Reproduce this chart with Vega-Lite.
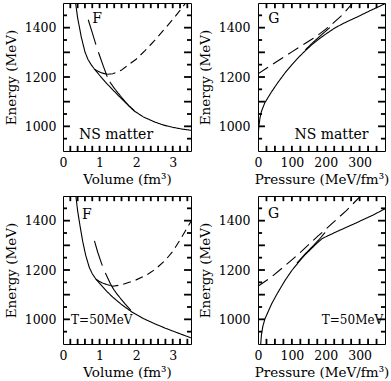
{
  "$schema": "https://vega.github.io/schema/vega-lite/v6.json",
  "background": "white",
  "padding": {"left": 3, "top": 1, "right": 0, "bottom": 0},
  "bounds": "flush",
  "spacing": {"row": 45, "column": 67},
  "columns": 2,
  "config": {
    "view": {"stroke": "black", "strokeWidth": 1},
    "axis": {"domain": false, "grid": false, "ticks": false, "labelFlush": false, "labelOverlap": false, "labelFont": "DejaVu Serif", "titleFont": "DejaVu Serif", "labelFontSize": 12.5, "titleFontSize": 13.5, "labelColor": "black", "titleColor": "black", "titleFontWeight": "normal"},
    "text": {"font": "DejaVu Serif", "fontSize": 14, "color": "black"},
    "line": {"color": "black", "strokeWidth": 1.1},
    "rule": {"color": "black", "strokeWidth": 1.8, "opacity": 1}
  },
  "datasets": {
    "xt_vol": [{"v": 0.2}, {"v": 0.4}, {"v": 0.6}, {"v": 0.8}, {"v": 1}, {"v": 1.2}, {"v": 1.4}, {"v": 1.6}, {"v": 1.8}, {"v": 2}, {"v": 2.2}, {"v": 2.4}, {"v": 2.6}, {"v": 2.8}, {"v": 3}, {"v": 3.2}, {"v": 3.4}],
    "xt_p": [{"v": 25}, {"v": 50}, {"v": 75}, {"v": 100}, {"v": 125}, {"v": 150}, {"v": 175}, {"v": 200}, {"v": 225}, {"v": 250}, {"v": 275}, {"v": 300}, {"v": 325}, {"v": 350}],
    "yt_major": [{"v": 1000}, {"v": 1100}, {"v": 1200}, {"v": 1300}, {"v": 1400}],
    "yt_minor": [{"v": 950}, {"v": 1050}, {"v": 1150}, {"v": 1250}, {"v": 1350}, {"v": 1450}],
    "tl": [
      {"seg": "a1", "dash": "solid", "x": 0.33, "y": 1515}, {"seg": "a1", "dash": "solid", "x": 0.4, "y": 1440}, {"seg": "a1", "dash": "solid", "x": 0.5, "y": 1362}, {"seg": "a1", "dash": "solid", "x": 0.6, "y": 1302}, {"seg": "a1", "dash": "solid", "x": 0.68, "y": 1272}, {"seg": "a1", "dash": "solid", "x": 0.77, "y": 1250}, {"seg": "a1", "dash": "solid", "x": 0.86, "y": 1232}, {"seg": "a1", "dash": "solid", "x": 1.0, "y": 1207}, {"seg": "a1", "dash": "solid", "x": 1.2, "y": 1173}, {"seg": "a1", "dash": "solid", "x": 1.4, "y": 1142}, {"seg": "a1", "dash": "solid", "x": 1.6, "y": 1112}, {"seg": "a1", "dash": "solid", "x": 1.8, "y": 1083}, {"seg": "a1", "dash": "solid", "x": 1.95, "y": 1062}, {"seg": "a1", "dash": "solid", "x": 2.2, "y": 1038}, {"seg": "a1", "dash": "solid", "x": 2.5, "y": 1018}, {"seg": "a1", "dash": "solid", "x": 2.75, "y": 1005}, {"seg": "a1", "dash": "solid", "x": 3.0, "y": 996}, {"seg": "a1", "dash": "solid", "x": 3.25, "y": 989}, {"seg": "a1", "dash": "solid", "x": 3.5, "y": 984},
      {"seg": "a2", "dash": "long", "x": 0.69, "y": 1432}, {"seg": "a2", "dash": "long", "x": 0.8, "y": 1380}, {"seg": "a2", "dash": "long", "x": 0.9, "y": 1331}, {"seg": "a2", "dash": "long", "x": 1.0, "y": 1287}, {"seg": "a2", "dash": "long", "x": 1.1, "y": 1245}, {"seg": "a2", "dash": "long", "x": 1.2, "y": 1205}, {"seg": "a2", "dash": "long", "x": 1.28, "y": 1180},
      {"seg": "a3", "dash": "solid", "x": 1.28, "y": 1180}, {"seg": "a3", "dash": "solid", "x": 1.4, "y": 1155}, {"seg": "a3", "dash": "solid", "x": 1.5, "y": 1136}, {"seg": "a3", "dash": "solid", "x": 1.6, "y": 1118}, {"seg": "a3", "dash": "solid", "x": 1.7, "y": 1100}, {"seg": "a3", "dash": "solid", "x": 1.8, "y": 1084}, {"seg": "a3", "dash": "solid", "x": 1.95, "y": 1063},
      {"seg": "a4", "dash": "solid", "x": 0.86, "y": 1232}, {"seg": "a4", "dash": "solid", "x": 0.95, "y": 1224}, {"seg": "a4", "dash": "solid", "x": 1.05, "y": 1217}, {"seg": "a4", "dash": "solid", "x": 1.15, "y": 1213}, {"seg": "a4", "dash": "solid", "x": 1.22, "y": 1211},
      {"seg": "a5", "dash": "short", "x": 1.22, "y": 1211}, {"seg": "a5", "dash": "short", "x": 1.36, "y": 1213}, {"seg": "a5", "dash": "short", "x": 1.59, "y": 1227}, {"seg": "a5", "dash": "short", "x": 1.77, "y": 1247}, {"seg": "a5", "dash": "short", "x": 2.0, "y": 1272}, {"seg": "a5", "dash": "short", "x": 2.25, "y": 1308}, {"seg": "a5", "dash": "short", "x": 2.5, "y": 1347}, {"seg": "a5", "dash": "short", "x": 2.75, "y": 1390}, {"seg": "a5", "dash": "short", "x": 3.0, "y": 1433}, {"seg": "a5", "dash": "short", "x": 3.2, "y": 1470}, {"seg": "a5", "dash": "short", "x": 3.38, "y": 1505}
    ],
    "tr": [
      {"seg": "b1", "dash": "solid", "x": 0, "y": 945}, {"seg": "b1", "dash": "solid", "x": 1, "y": 975}, {"seg": "b1", "dash": "solid", "x": 3, "y": 1005}, {"seg": "b1", "dash": "solid", "x": 6, "y": 1035}, {"seg": "b1", "dash": "solid", "x": 10, "y": 1060}, {"seg": "b1", "dash": "solid", "x": 20, "y": 1095}, {"seg": "b1", "dash": "solid", "x": 40, "y": 1140}, {"seg": "b1", "dash": "solid", "x": 60, "y": 1180}, {"seg": "b1", "dash": "solid", "x": 80, "y": 1217}, {"seg": "b1", "dash": "solid", "x": 100, "y": 1250}, {"seg": "b1", "dash": "solid", "x": 120, "y": 1280}, {"seg": "b1", "dash": "solid", "x": 140, "y": 1307}, {"seg": "b1", "dash": "solid", "x": 160, "y": 1332}, {"seg": "b1", "dash": "solid", "x": 180, "y": 1354}, {"seg": "b1", "dash": "solid", "x": 200, "y": 1374}, {"seg": "b1", "dash": "solid", "x": 225, "y": 1397}, {"seg": "b1", "dash": "solid", "x": 250, "y": 1416}, {"seg": "b1", "dash": "solid", "x": 275, "y": 1432}, {"seg": "b1", "dash": "solid", "x": 300, "y": 1448}, {"seg": "b1", "dash": "solid", "x": 325, "y": 1465}, {"seg": "b1", "dash": "solid", "x": 350, "y": 1481}, {"seg": "b1", "dash": "solid", "x": 375, "y": 1497},
      {"seg": "b2", "dash": "med", "x": 0, "y": 1213}, {"seg": "b2", "dash": "med", "x": 50, "y": 1258}, {"seg": "b2", "dash": "med", "x": 100, "y": 1302}, {"seg": "b2", "dash": "med", "x": 140, "y": 1337}, {"seg": "b2", "dash": "med", "x": 160, "y": 1354}, {"seg": "b2", "dash": "med", "x": 180, "y": 1373}, {"seg": "b2", "dash": "med", "x": 200, "y": 1394}, {"seg": "b2", "dash": "med", "x": 220, "y": 1416}, {"seg": "b2", "dash": "med", "x": 250, "y": 1453}, {"seg": "b2", "dash": "med", "x": 280, "y": 1500},
      {"seg": "b3", "dash": "solid", "x": 140, "y": 1310}, {"seg": "b3", "dash": "solid", "x": 160, "y": 1337}, {"seg": "b3", "dash": "solid", "x": 180, "y": 1362}, {"seg": "b3", "dash": "solid", "x": 200, "y": 1386}, {"seg": "b3", "dash": "solid", "x": 212, "y": 1400}
    ],
    "bl": [
      {"seg": "c1", "dash": "solid", "x": 0.34, "y": 1515}, {"seg": "c1", "dash": "solid", "x": 0.4, "y": 1440}, {"seg": "c1", "dash": "solid", "x": 0.47, "y": 1375}, {"seg": "c1", "dash": "solid", "x": 0.54, "y": 1315}, {"seg": "c1", "dash": "solid", "x": 0.62, "y": 1260}, {"seg": "c1", "dash": "solid", "x": 0.72, "y": 1210}, {"seg": "c1", "dash": "solid", "x": 0.8, "y": 1185}, {"seg": "c1", "dash": "solid", "x": 0.9, "y": 1163}, {"seg": "c1", "dash": "solid", "x": 1.0, "y": 1146}, {"seg": "c1", "dash": "solid", "x": 1.2, "y": 1113}, {"seg": "c1", "dash": "solid", "x": 1.36, "y": 1090}, {"seg": "c1", "dash": "solid", "x": 1.6, "y": 1060}, {"seg": "c1", "dash": "solid", "x": 1.9, "y": 1028}, {"seg": "c1", "dash": "solid", "x": 2.2, "y": 1003}, {"seg": "c1", "dash": "solid", "x": 2.54, "y": 980}, {"seg": "c1", "dash": "solid", "x": 2.8, "y": 964}, {"seg": "c1", "dash": "solid", "x": 3.1, "y": 947}, {"seg": "c1", "dash": "solid", "x": 3.5, "y": 925},
      {"seg": "c2", "dash": "long", "x": 0.86, "y": 1318}, {"seg": "c2", "dash": "long", "x": 0.95, "y": 1272}, {"seg": "c2", "dash": "long", "x": 1.05, "y": 1228}, {"seg": "c2", "dash": "long", "x": 1.15, "y": 1190}, {"seg": "c2", "dash": "long", "x": 1.3, "y": 1143},
      {"seg": "c3", "dash": "solid", "x": 1.3, "y": 1143}, {"seg": "c3", "dash": "solid", "x": 1.4, "y": 1118}, {"seg": "c3", "dash": "solid", "x": 1.5, "y": 1098}, {"seg": "c3", "dash": "solid", "x": 1.6, "y": 1080}, {"seg": "c3", "dash": "solid", "x": 1.7, "y": 1062}, {"seg": "c3", "dash": "solid", "x": 1.86, "y": 1036},
      {"seg": "c4", "dash": "solid", "x": 0.9, "y": 1163}, {"seg": "c4", "dash": "solid", "x": 1.0, "y": 1153}, {"seg": "c4", "dash": "solid", "x": 1.1, "y": 1146}, {"seg": "c4", "dash": "solid", "x": 1.2, "y": 1141}, {"seg": "c4", "dash": "solid", "x": 1.3, "y": 1137},
      {"seg": "c5", "dash": "short", "x": 1.3, "y": 1137}, {"seg": "c5", "dash": "short", "x": 1.36, "y": 1134}, {"seg": "c5", "dash": "short", "x": 1.6, "y": 1140}, {"seg": "c5", "dash": "short", "x": 2.0, "y": 1160}, {"seg": "c5", "dash": "short", "x": 2.32, "y": 1183}, {"seg": "c5", "dash": "short", "x": 2.54, "y": 1205}, {"seg": "c5", "dash": "short", "x": 2.8, "y": 1240}, {"seg": "c5", "dash": "short", "x": 3.0, "y": 1275}, {"seg": "c5", "dash": "short", "x": 3.2, "y": 1322}, {"seg": "c5", "dash": "short", "x": 3.4, "y": 1372}, {"seg": "c5", "dash": "short", "x": 3.52, "y": 1402}
    ],
    "br": [
      {"seg": "d1", "dash": "solid", "x": 8, "y": 900}, {"seg": "d1", "dash": "solid", "x": 10, "y": 935}, {"seg": "d1", "dash": "solid", "x": 14, "y": 970}, {"seg": "d1", "dash": "solid", "x": 20, "y": 1000}, {"seg": "d1", "dash": "solid", "x": 28, "y": 1025}, {"seg": "d1", "dash": "solid", "x": 40, "y": 1062}, {"seg": "d1", "dash": "solid", "x": 57, "y": 1105}, {"seg": "d1", "dash": "solid", "x": 80, "y": 1158}, {"seg": "d1", "dash": "solid", "x": 100, "y": 1198}, {"seg": "d1", "dash": "solid", "x": 120, "y": 1232}, {"seg": "d1", "dash": "solid", "x": 140, "y": 1263}, {"seg": "d1", "dash": "solid", "x": 160, "y": 1290}, {"seg": "d1", "dash": "solid", "x": 175, "y": 1310}, {"seg": "d1", "dash": "solid", "x": 190, "y": 1328}, {"seg": "d1", "dash": "solid", "x": 230, "y": 1354}, {"seg": "d1", "dash": "solid", "x": 290, "y": 1391}, {"seg": "d1", "dash": "solid", "x": 340, "y": 1423}, {"seg": "d1", "dash": "solid", "x": 375, "y": 1448},
      {"seg": "d2", "dash": "med", "x": 0, "y": 1134}, {"seg": "d2", "dash": "med", "x": 40, "y": 1172}, {"seg": "d2", "dash": "med", "x": 77, "y": 1214}, {"seg": "d2", "dash": "med", "x": 120, "y": 1265}, {"seg": "d2", "dash": "med", "x": 175, "y": 1335}, {"seg": "d2", "dash": "med", "x": 224, "y": 1395}, {"seg": "d2", "dash": "med", "x": 260, "y": 1440}, {"seg": "d2", "dash": "med", "x": 303, "y": 1500},
      {"seg": "d3", "dash": "solid", "x": 115, "y": 1228}, {"seg": "d3", "dash": "solid", "x": 140, "y": 1266}, {"seg": "d3", "dash": "solid", "x": 160, "y": 1294}, {"seg": "d3", "dash": "solid", "x": 180, "y": 1323}, {"seg": "d3", "dash": "solid", "x": 198, "y": 1352}
    ]
  },
  "concat": [
    {
      "width": 128, "height": 148,
      "resolve": {"axis": {"x": "independent", "y": "independent"}},
      "layer": [
        {"data": {"name": "tl"},
         "mark": {"type": "line", "clip": true},
         "encoding": {
           "x": {"field": "x", "type": "quantitative", "scale": {"domain": [0, 3.5], "nice": false, "zero": false}, "axis": {"orient": "bottom", "values": [0, 1, 2, 3], "format": "d", "labelPadding": 5, "title": "Volume (fm³)", "titlePadding": 4}},
           "y": {"field": "y", "type": "quantitative", "scale": {"domain": [900, 1500], "nice": false, "zero": false}, "axis": {"orient": "left", "values": [1000, 1200, 1400], "format": "d", "labelPadding": 7, "title": "Energy (MeV)", "titlePadding": 6}},
           "detail": {"field": "seg"},
           "strokeDash": {"field": "dash", "type": "nominal", "scale": {"domain": ["solid", "long", "short", "med"], "range": [[1, 0], [26, 8], [8, 5], [12, 6]]}, "legend": null}
         }},
        {"data": {"name": "xt_vol"}, "mark": {"type": "rule"},
         "encoding": {"x": {"field": "v", "type": "quantitative", "axis": null}, "y": {"datum": 900, "type": "quantitative", "axis": null}, "y2": {"datum": 921}}},
        {"data": {"name": "xt_vol"}, "mark": {"type": "rule"},
         "encoding": {"x": {"field": "v", "type": "quantitative", "axis": null}, "y": {"datum": 1500, "type": "quantitative", "axis": null}, "y2": {"datum": 1479}}},
        {"data": {"name": "yt_major"}, "mark": {"type": "rule"},
         "encoding": {"y": {"field": "v", "type": "quantitative", "axis": null}, "x": {"datum": 0, "type": "quantitative", "axis": null}, "x2": {"datum": 0.19}}},
        {"data": {"name": "yt_minor"}, "mark": {"type": "rule"},
         "encoding": {"y": {"field": "v", "type": "quantitative", "axis": null}, "x": {"datum": 0, "type": "quantitative", "axis": null}, "x2": {"datum": 0.11}}},
        {"data": {"name": "yt_major"}, "mark": {"type": "rule"},
         "encoding": {"y": {"field": "v", "type": "quantitative", "axis": null}, "x": {"datum": 3.5, "type": "quantitative", "axis": null}, "x2": {"datum": 3.31}}},
        {"data": {"name": "yt_minor"}, "mark": {"type": "rule"},
         "encoding": {"y": {"field": "v", "type": "quantitative", "axis": null}, "x": {"datum": 3.5, "type": "quantitative", "axis": null}, "x2": {"datum": 3.39}}},
        {"data": {"values": [{"x": 0.93, "y": 1436, "t": "F"}, {"x": 1.45, "y": 964, "t": "NS matter"}]},
         "mark": {"type": "text", "baseline": "middle", "align": "center"},
         "encoding": {
           "x": {"field": "x", "type": "quantitative", "axis": null},
           "y": {"field": "y", "type": "quantitative", "axis": null},
           "text": {"field": "t"}
         }}
      ]
    },
    {
      "width": 127, "height": 148,
      "resolve": {"axis": {"x": "independent", "y": "independent"}},
      "layer": [
        {"data": {"name": "tr"},
         "mark": {"type": "line", "clip": true},
         "encoding": {
           "x": {"field": "x", "type": "quantitative", "scale": {"domain": [0, 375], "nice": false, "zero": false}, "axis": {"orient": "bottom", "values": [0, 100, 200, 300], "format": "d", "labelPadding": 5, "title": "Pressure (MeV/fm³)", "titlePadding": 4}},
           "y": {"field": "y", "type": "quantitative", "scale": {"domain": [900, 1500], "nice": false, "zero": false}, "axis": {"orient": "left", "values": [1000, 1200, 1400], "format": "d", "labelPadding": 8, "title": "Energy (MeV)", "titlePadding": 6}},
           "detail": {"field": "seg"},
           "strokeDash": {"field": "dash", "type": "nominal", "scale": {"domain": ["solid", "long", "short", "med"], "range": [[1, 0], [26, 8], [8, 5], [12, 6]]}, "legend": null}
         }},
        {"data": {"name": "xt_p"}, "mark": {"type": "rule"},
         "encoding": {"x": {"field": "v", "type": "quantitative", "axis": null}, "y": {"datum": 900, "type": "quantitative", "axis": null}, "y2": {"datum": 921}}},
        {"data": {"name": "xt_p"}, "mark": {"type": "rule"},
         "encoding": {"x": {"field": "v", "type": "quantitative", "axis": null}, "y": {"datum": 1500, "type": "quantitative", "axis": null}, "y2": {"datum": 1479}}},
        {"data": {"name": "yt_major"}, "mark": {"type": "rule"},
         "encoding": {"y": {"field": "v", "type": "quantitative", "axis": null}, "x": {"datum": 0, "type": "quantitative", "axis": null}, "x2": {"datum": 20.5}}},
        {"data": {"name": "yt_minor"}, "mark": {"type": "rule"},
         "encoding": {"y": {"field": "v", "type": "quantitative", "axis": null}, "x": {"datum": 0, "type": "quantitative", "axis": null}, "x2": {"datum": 12}}},
        {"data": {"name": "yt_major"}, "mark": {"type": "rule"},
         "encoding": {"y": {"field": "v", "type": "quantitative", "axis": null}, "x": {"datum": 375, "type": "quantitative", "axis": null}, "x2": {"datum": 354.5}}},
        {"data": {"name": "yt_minor"}, "mark": {"type": "rule"},
         "encoding": {"y": {"field": "v", "type": "quantitative", "axis": null}, "x": {"datum": 375, "type": "quantitative", "axis": null}, "x2": {"datum": 363}}},
        {"data": {"values": [{"x": 47, "y": 1436, "t": "G"}, {"x": 217, "y": 964, "t": "NS matter"}]},
         "mark": {"type": "text", "baseline": "middle", "align": "center"},
         "encoding": {
           "x": {"field": "x", "type": "quantitative", "axis": null},
           "y": {"field": "y", "type": "quantitative", "axis": null},
           "text": {"field": "t"}
         }}
      ]
    },
    {
      "width": 128, "height": 148,
      "resolve": {"axis": {"x": "independent", "y": "independent"}},
      "layer": [
        {"data": {"name": "bl"},
         "mark": {"type": "line", "clip": true},
         "encoding": {
           "x": {"field": "x", "type": "quantitative", "scale": {"domain": [0, 3.5], "nice": false, "zero": false}, "axis": {"orient": "bottom", "values": [0, 1, 2, 3], "format": "d", "labelPadding": 5, "title": "Volume (fm³)", "titlePadding": 4}},
           "y": {"field": "y", "type": "quantitative", "scale": {"domain": [900, 1500], "nice": false, "zero": false}, "axis": {"orient": "left", "values": [1000, 1200, 1400], "format": "d", "labelPadding": 7, "title": "Energy (MeV)", "titlePadding": 6}},
           "detail": {"field": "seg"},
           "strokeDash": {"field": "dash", "type": "nominal", "scale": {"domain": ["solid", "long", "short", "med"], "range": [[1, 0], [26, 8], [8, 5], [12, 6]]}, "legend": null}
         }},
        {"data": {"name": "xt_vol"}, "mark": {"type": "rule"},
         "encoding": {"x": {"field": "v", "type": "quantitative", "axis": null}, "y": {"datum": 900, "type": "quantitative", "axis": null}, "y2": {"datum": 921}}},
        {"data": {"name": "xt_vol"}, "mark": {"type": "rule"},
         "encoding": {"x": {"field": "v", "type": "quantitative", "axis": null}, "y": {"datum": 1500, "type": "quantitative", "axis": null}, "y2": {"datum": 1479}}},
        {"data": {"name": "yt_major"}, "mark": {"type": "rule"},
         "encoding": {"y": {"field": "v", "type": "quantitative", "axis": null}, "x": {"datum": 0, "type": "quantitative", "axis": null}, "x2": {"datum": 0.19}}},
        {"data": {"name": "yt_minor"}, "mark": {"type": "rule"},
         "encoding": {"y": {"field": "v", "type": "quantitative", "axis": null}, "x": {"datum": 0, "type": "quantitative", "axis": null}, "x2": {"datum": 0.11}}},
        {"data": {"name": "yt_major"}, "mark": {"type": "rule"},
         "encoding": {"y": {"field": "v", "type": "quantitative", "axis": null}, "x": {"datum": 3.5, "type": "quantitative", "axis": null}, "x2": {"datum": 3.31}}},
        {"data": {"name": "yt_minor"}, "mark": {"type": "rule"},
         "encoding": {"y": {"field": "v", "type": "quantitative", "axis": null}, "x": {"datum": 3.5, "type": "quantitative", "axis": null}, "x2": {"datum": 3.39}}},
        {"data": {"values": [{"x": 0.65, "y": 1422, "t": "F", "s": 14}, {"x": 1.06, "y": 999, "t": "T=50MeV", "s": 12}]},
         "mark": {"type": "text", "baseline": "middle", "align": "center"},
         "encoding": {
           "x": {"field": "x", "type": "quantitative", "axis": null},
           "y": {"field": "y", "type": "quantitative", "axis": null},
           "text": {"field": "t"},
           "size": {"field": "s", "type": "quantitative", "scale": null}
         }}
      ]
    },
    {
      "width": 127, "height": 148,
      "resolve": {"axis": {"x": "independent", "y": "independent"}},
      "layer": [
        {"data": {"name": "br"},
         "mark": {"type": "line", "clip": true},
         "encoding": {
           "x": {"field": "x", "type": "quantitative", "scale": {"domain": [0, 375], "nice": false, "zero": false}, "axis": {"orient": "bottom", "values": [0, 100, 200, 300], "format": "d", "labelPadding": 5, "title": "Pressure (MeV/fm³)", "titlePadding": 4}},
           "y": {"field": "y", "type": "quantitative", "scale": {"domain": [900, 1500], "nice": false, "zero": false}, "axis": {"orient": "left", "values": [1000, 1200, 1400], "format": "d", "labelPadding": 8, "title": "Energy (MeV)", "titlePadding": 6}},
           "detail": {"field": "seg"},
           "strokeDash": {"field": "dash", "type": "nominal", "scale": {"domain": ["solid", "long", "short", "med"], "range": [[1, 0], [26, 8], [8, 5], [12, 6]]}, "legend": null}
         }},
        {"data": {"name": "xt_p"}, "mark": {"type": "rule"},
         "encoding": {"x": {"field": "v", "type": "quantitative", "axis": null}, "y": {"datum": 900, "type": "quantitative", "axis": null}, "y2": {"datum": 921}}},
        {"data": {"name": "xt_p"}, "mark": {"type": "rule"},
         "encoding": {"x": {"field": "v", "type": "quantitative", "axis": null}, "y": {"datum": 1500, "type": "quantitative", "axis": null}, "y2": {"datum": 1479}}},
        {"data": {"name": "yt_major"}, "mark": {"type": "rule"},
         "encoding": {"y": {"field": "v", "type": "quantitative", "axis": null}, "x": {"datum": 0, "type": "quantitative", "axis": null}, "x2": {"datum": 20.5}}},
        {"data": {"name": "yt_minor"}, "mark": {"type": "rule"},
         "encoding": {"y": {"field": "v", "type": "quantitative", "axis": null}, "x": {"datum": 0, "type": "quantitative", "axis": null}, "x2": {"datum": 12}}},
        {"data": {"name": "yt_major"}, "mark": {"type": "rule"},
         "encoding": {"y": {"field": "v", "type": "quantitative", "axis": null}, "x": {"datum": 375, "type": "quantitative", "axis": null}, "x2": {"datum": 354.5}}},
        {"data": {"name": "yt_minor"}, "mark": {"type": "rule"},
         "encoding": {"y": {"field": "v", "type": "quantitative", "axis": null}, "x": {"datum": 375, "type": "quantitative", "axis": null}, "x2": {"datum": 363}}},
        {"data": {"values": [{"x": 46, "y": 1429, "t": "G", "s": 14}, {"x": 279, "y": 999, "t": "T=50MeV", "s": 12}]},
         "mark": {"type": "text", "baseline": "middle", "align": "center"},
         "encoding": {
           "x": {"field": "x", "type": "quantitative", "axis": null},
           "y": {"field": "y", "type": "quantitative", "axis": null},
           "text": {"field": "t"},
           "size": {"field": "s", "type": "quantitative", "scale": null}
         }}
      ]
    }
  ]
}
